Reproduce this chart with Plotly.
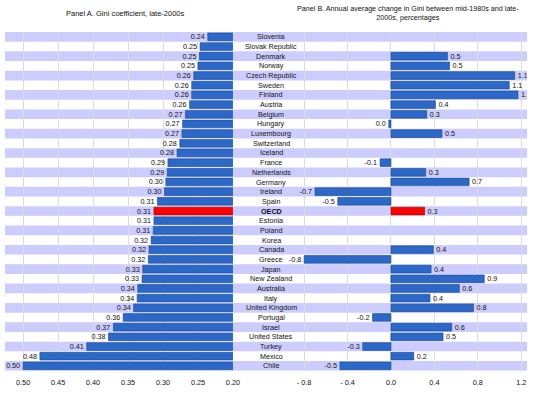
import plotly.graph_objects as go

W, H = 544, 395

countries = ["Slovenia", "Slovak Republic", "Denmark", "Norway", "Czech Republic", "Sweden",
             "Finland", "Austria", "Belgium", "Hungary", "Luxembourg", "Switzerland", "Iceland",
             "France", "Netherlands", "Germany", "Ireland", "Spain", "OECD", "Estonia", "Poland",
             "Korea", "Canada", "Greece", "Japan", "New Zealand", "Australia", "Italy",
             "United Kingdom", "Portugal", "Israel", "United States", "Turkey", "Mexico", "Chile"]

gini = [0.236, 0.247, 0.248, 0.250, 0.256, 0.259, 0.259, 0.262, 0.268, 0.272, 0.273, 0.276,
        0.280, 0.293, 0.294, 0.296, 0.298, 0.308, 0.313, 0.313, 0.314, 0.317, 0.320, 0.321,
        0.329, 0.330, 0.336, 0.337, 0.342, 0.357, 0.371, 0.378, 0.409, 0.476, 0.500]

change = [None, None, 0.52, 0.54, 1.14, 1.09, 1.17, 0.41, 0.33, -0.02, 0.47, None, None,
          -0.10, 0.32, 0.72, -0.70, -0.49, 0.31, None, None, None, 0.39, -0.80, 0.37, 0.86,
          0.63, 0.36, 0.76, -0.17, 0.56, 0.48, -0.26, 0.21, -0.47]

left_ticks = [0.50, 0.45, 0.40, 0.35, 0.30, 0.25, 0.20]
right_ticks = [-0.8, -0.4, 0.0, 0.4, 0.8, 1.2]
right_ticktext = ["- 0.8", "- 0.4", "0.0", "0.4", "0.8", "1.2"]

BLUE = "#2c68c8"
BLUE_LINE = "#1d4488"
RED = "#ff0000"
RED_LINE = "#a00000"
STRIPE = "#ccccff"
FONT = "Liberation Sans, Arial, sans-serif"

colors = [RED if c == "OECD" else BLUE for c in countries]
lcolors = [RED_LINE if c == "OECD" else BLUE_LINE for c in countries]


def fmt1(v):
    if v is None:
        return ""
    s = f"{v:.1f}"
    return "0.0" if s == "-0.0" else s


fig = go.Figure()
fig.add_trace(go.Bar(
    y=countries, x=gini, orientation="h", xaxis="x", yaxis="y",
    marker=dict(color=colors, line=dict(color=lcolors, width=0.6)),
    text=[f"{v:.2f}" for v in gini], textposition="outside", constraintext="none",
    textfont=dict(size=7.2, color="#111", family=FONT), cliponaxis=True, showlegend=False,
    hoverinfo="x+y"))
fig.add_trace(go.Bar(
    y=countries, x=change, orientation="h", xaxis="x2", yaxis="y2",
    marker=dict(color=colors, line=dict(color=lcolors, width=0.6)),
    text=[fmt1(v) for v in change], textposition="outside", constraintext="none",
    textfont=dict(size=7.2, color="#111", family=FONT), cliponaxis=True, showlegend=False,
    hoverinfo="x+y"))

ytop, ybot = 32, 370.7
ydom = [1 - ybot / H, 1 - ytop / H]

shapes = []
for i in range(0, len(countries), 2):
    shapes.append(dict(type="rect", xref="paper", yref="y", x0=5 / W, x1=534 / W,
                       y0=i - 0.5, y1=i + 0.5, fillcolor=STRIPE, line=dict(width=0),
                       layer="below"))

annotations = []
for c in countries:
    annotations.append(dict(xref="paper", yref="y", x=275 / W, y=c,
                            text=("<b>OECD</b>" if c == "OECD" else c), showarrow=False,
                            xanchor="center", yanchor="middle",
                            font=dict(size=7.2, color="#111", family=FONT)))
annotations.append(dict(xref="paper", yref="paper", x=127 / W, y=1 - 14 / H,
                        text="Panel A. Gini coefficient, late-2000s", showarrow=False,
                        xanchor="center", yanchor="middle",
                        font=dict(size=7.5, color="#111", family=FONT)))
annotations.append(dict(xref="paper", yref="paper", x=413 / W, y=1 - 13 / H,
                        text="Panel B. Annual average change in Gini between mid-1980s and late-<br>2000s, percentages",
                        showarrow=False, xanchor="center", yanchor="middle",
                        font=dict(size=7.2, color="#111", family=FONT)))

fig.update_layout(
    width=W, height=H, margin=dict(l=0, r=0, t=0, b=0),
    paper_bgcolor="white", plot_bgcolor="rgba(0,0,0,0)",
    bargap=0.2, font=dict(family=FONT, size=7.2, color="#111"),
    xaxis=dict(domain=[5 / W, 236 / W], range=[0.526, 0.20], tickvals=left_ticks,
               tickformat=".2f", showgrid=True, gridcolor="#dcdcdc", gridwidth=1,
               zeroline=False, ticks="", showline=False, ticklabelstandoff=6,
               tickfont=dict(size=7.3, family=FONT, color="#111"), anchor="y"),
    yaxis=dict(domain=ydom, categoryorder="array", categoryarray=countries,
               range=[len(countries) - 0.5, -0.5], showticklabels=False, showgrid=False,
               zeroline=False, ticks="", anchor="x"),
    xaxis2=dict(domain=[285 / W, 533.5 / W], range=[-1.01, 1.25], tickvals=right_ticks,
                ticktext=right_ticktext, showgrid=True, gridcolor="#dcdcdc", gridwidth=1,
                zeroline=True, zerolinecolor="#dcdcdc", zerolinewidth=1, ticks="",
                showline=False, ticklabelstandoff=6,
                tickfont=dict(size=7.3, family=FONT, color="#111"), anchor="y2"),
    yaxis2=dict(domain=ydom, categoryorder="array", categoryarray=countries,
                range=[len(countries) - 0.5, -0.5], showticklabels=False, showgrid=False,
                zeroline=False, ticks="", anchor="x2"),
    shapes=shapes, annotations=annotations,
)

fig.write_html("out.html", config={"displayModeBar": False},
               post_script="document.body.style.margin='0px';")
